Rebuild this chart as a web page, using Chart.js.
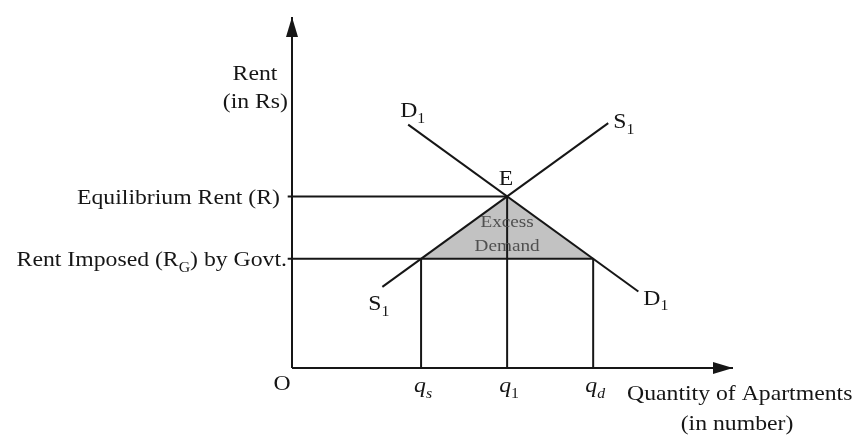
<!DOCTYPE html>
<html>
<head>
<meta charset="utf-8">
<script src="https://cdn.jsdelivr.net/npm/chart.js@4"></script>
<style>
  html, body { margin: 0; padding: 0; background: #fff; }
  canvas { display: block; }
</style>
</head>
<body>
<canvas id="rentChart" width="856" height="436"></canvas>
<script>
// Quantities on the x axis: q_s, q_1, q_d
const quantityNames = ['s', '1', 'd'];
const quantityValues = [3, 5, 7];

// Rents on the y axis: equilibrium R, imposed R_G
const equilibriumRent = 11;
const imposedRent = 7;

// Demand D1 and supply S1 end points
const demandX = [2.7, 8.05];
const demandY = [15.6, 4.9];
const supplyX = [2.1, 7.35];
const supplyY = [5.2, 15.7];

// Axis extents
const xMax = 10.25;
const yMax = 22.5;

const ink = '#161616';
const serif = '"Liberation Serif", "Times New Roman", serif';
const STRETCH = 1.13;

// Draw text made of parts, some of them subscripts
const rich = (ctx, parts, x, y, align, size, color) => {
    ctx.save();
    const fontOf = p => `${p.italic ? 'italic ' : ''}${p.sub ? Math.round(size * 0.68) : size}px ${serif}`;
    const widths = parts.map(p => { ctx.font = fontOf(p); return ctx.measureText(p.t).width; });
    const total = widths.reduce((a, b) => a + b, 0) * STRETCH;
    const start = align === 'right' ? x - total : align === 'center' ? x - total / 2 : x;
    ctx.translate(start, y);
    ctx.scale(STRETCH, 1);
    ctx.fillStyle = color || ink;
    ctx.textBaseline = 'alphabetic';
    ctx.textAlign = 'left';
    let cx = 0;
    parts.forEach((p, i) => {
        ctx.font = fontOf(p);
        ctx.fillText(p.t, cx, p.sub ? size * 0.28 : 0);
        cx += widths[i];
    });
    ctx.restore();
};

const labelsPlugin = {
    id: 'diagramLabels',
    afterDatasetsDraw(chart) {
        const { ctx, scales: { x, y } } = chart;
        const px = v => x.getPixelForValue(v);
        const py = v => y.getPixelForValue(v);

        // Arrow heads on both axes
        ctx.save();
        ctx.fillStyle = ink;
        ctx.beginPath();
        ctx.moveTo(px(0), py(yMax));
        ctx.lineTo(px(0) - 6, py(yMax) + 20);
        ctx.lineTo(px(0) + 6, py(yMax) + 20);
        ctx.closePath();
        ctx.fill();
        ctx.beginPath();
        ctx.moveTo(px(xMax), py(0));
        ctx.lineTo(px(xMax) - 20, py(0) - 6);
        ctx.lineTo(px(xMax) - 20, py(0) + 6);
        ctx.closePath();
        ctx.fill();
        ctx.restore();

        // Y axis title
        rich(ctx, [{ t: 'Rent' }], px(0) - 37, py(yMax) + 63, 'center', 21);
        rich(ctx, [{ t: '(in Rs)' }], px(0) - 4, py(yMax) + 91, 'right', 21);

        // Rent levels
        rich(ctx, [{ t: 'Equilibrium Rent (R)' }], px(0) - 12, py(equilibriumRent) + 8, 'right', 21);
        rich(ctx, [{ t: 'Rent Imposed (R' }, { t: 'G', sub: true }, { t: ') by Govt.' }],
            px(0) - 5, py(imposedRent) + 7, 'right', 21);

        // Origin and quantities
        rich(ctx, [{ t: 'O' }], px(0) - 10, py(0) + 22, 'center', 21);
        quantityValues.forEach((q, i) => {
            const name = quantityNames[i];
            rich(ctx, [{ t: 'q', italic: true }, { t: name, sub: true, italic: isNaN(name) }],
                px(q) + 2, py(0) + 24, 'center', 21);
        });
        rich(ctx, [{ t: 'Quantity of Apartments' }], px(xMax) - 106, py(0) + 32, 'left', 21);
        rich(ctx, [{ t: '(in number)' }], px(xMax) + 4, py(0) + 62, 'center', 21);

        // Curve names
        rich(ctx, [{ t: 'D' }, { t: '1', sub: true }], px(demandX[0]) - 8, py(demandY[0]) - 8, 'left', 21);
        rich(ctx, [{ t: 'S' }, { t: '1', sub: true }], px(supplyX[1]) + 5, py(supplyY[1]) + 5, 'left', 21);
        rich(ctx, [{ t: 'S' }, { t: '1', sub: true }], px(supplyX[0]) - 14, py(supplyY[0]) + 23, 'left', 21);
        rich(ctx, [{ t: 'D' }, { t: '1', sub: true }], px(demandX[1]) + 5, py(demandY[1]) + 13, 'left', 21);

        // Equilibrium point and shaded area
        rich(ctx, [{ t: 'E' }], px(quantityValues[1]) - 1, py(equilibriumRent) - 11, 'center', 21);
        rich(ctx, [{ t: 'Excess' }], px(quantityValues[1]), py(equilibriumRent) + 31, 'center', 17, '#505050');
        rich(ctx, [{ t: 'Demand' }], px(quantityValues[1]), py(equilibriumRent) + 55, 'center', 17, '#505050');
    }
};

const seg = (x0, y0, x1, y1) => [{ x: x0, y: y0 }, { x: x1, y: y1 }];
const lineStyle = { showLine: true, borderColor: ink, borderWidth: 2, pointRadius: 0, fill: false, order: 1, clip: false };

const datasets = [
    // axes
    { ...lineStyle, data: seg(0, 0, 0, yMax) },
    { ...lineStyle, data: seg(0, 0, xMax, 0) },
    // demand and supply
    { ...lineStyle, data: seg(demandX[0], demandY[0], demandX[1], demandY[1]) },
    { ...lineStyle, data: seg(supplyX[0], supplyY[0], supplyX[1], supplyY[1]) },
    // rent levels
    { ...lineStyle, data: seg(-0.1, equilibriumRent, quantityValues[1], equilibriumRent) },
    { ...lineStyle, data: seg(-0.1, imposedRent, quantityValues[2], imposedRent) },
    // quantity drop lines
    { ...lineStyle, data: seg(quantityValues[0], 0, quantityValues[0], imposedRent) },
    { ...lineStyle, data: seg(quantityValues[1], 0, quantityValues[1], equilibriumRent) },
    { ...lineStyle, data: seg(quantityValues[2], 0, quantityValues[2], imposedRent) },
    // excess demand triangle
    {
        showLine: true, borderWidth: 0, pointRadius: 0, order: 10,
        backgroundColor: '#c2c2c2', fill: 'shape',
        data: [
            { x: quantityValues[0], y: imposedRent },
            { x: quantityValues[1], y: equilibriumRent },
            { x: quantityValues[2], y: imposedRent },
            { x: quantityValues[0], y: imposedRent }
        ]
    }
];

new Chart(document.getElementById('rentChart').getContext('2d'), {
    type: 'scatter',
    data: { datasets },
    options: {
        responsive: false,
        animation: false,
        layout: { padding: { left: 292, right: 123, top: 17, bottom: 68 } },
        plugins: { legend: { display: false }, tooltip: { enabled: false } },
        scales: {
            x: { type: 'linear', min: 0, max: xMax, display: false },
            y: { type: 'linear', min: 0, max: yMax, display: false }
        }
    },
    plugins: [labelsPlugin]
});
</script>
</body>
</html>
